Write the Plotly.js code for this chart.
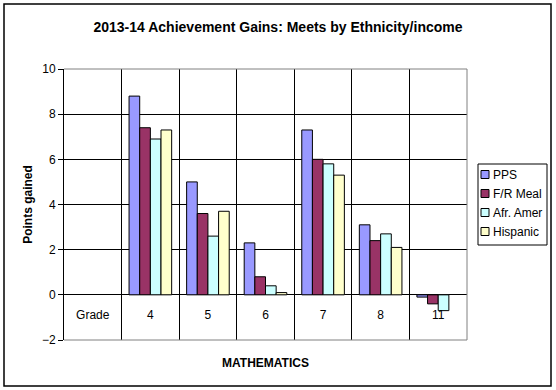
<!DOCTYPE html>
<html>
<head>
<meta charset="utf-8">
<script src="https://cdn.plot.ly/plotly-3.0.1.min.js"></script>
<style>html,body{margin:0;padding:0;background:#fff}</style>
</head>
<body>
<div id="chart" style="width:556px;height:390px"></div>
<script>
const categories = ["Grade", "4", "5", "6", "7", "8", "11"];
const seriesNames = ["PPS", "F/R Meal", "Afr. Amer", "Hispanic"];
const ppsValues = [null, 8.8, 5.0, 2.3, 7.3, 3.1, -0.1];
const frMealValues = [null, 7.4, 3.6, 0.8, 6.0, 2.4, -0.4];
const afrAmerValues = [null, 6.9, 2.6, 0.4, 5.8, 2.7, -0.7];
const hispanicValues = [null, 7.3, 3.7, 0.1, 5.3, 2.1, null];
const seriesColors = ["#9999FF", "#993366", "#CCFFFF", "#FFFFCC"];
const yTickValues = [-2, 0, 2, 4, 6, 8, 10];

const FONT = "Liberation Sans, Arial, sans-serif";
const allValues = [ppsValues, frMealValues, afrAmerValues, hispanicValues];

const traces = allValues.map((vals, i) => ({
  type: "bar",
  name: seriesNames[i],
  x: categories,
  y: vals,
  marker: { color: seriesColors[i], line: { color: "#000000", width: 1 } },
  hoverinfo: "x+y+name"
}));

// plot area in px: left 64, right 467, top 69, bottom 340
const L = 64, R = 467, T = 69, B = 340;
const px2x = p => (p - L) / (R - L);
const px2y = p => (B - p) / (B - T);

const layout = {
  width: 556,
  height: 390,
  margin: { l: L, r: 556 - R, t: T, b: 390 - B, autoexpand: false },
  paper_bgcolor: "#ffffff",
  plot_bgcolor: "#ffffff",
  font: { family: FONT, size: 12, color: "#000000" },
  barmode: "group",
  bargap: 0.26,
  bargroupgap: 0,
  showlegend: true,
  title: {
    text: "<b>2013-14 Achievement Gains: Meets by Ethnicity/income</b>",
    font: { family: FONT, size: 14, color: "#000000" },
    xref: "container", x: 0.5, xanchor: "center",
    yref: "container", y: 1 - 27 / 390, yanchor: "middle"
  },
  xaxis: {
    type: "category",
    categoryorder: "array",
    categoryarray: categories,
    tickson: "boundaries",
    showgrid: true,
    gridcolor: "#000000",
    gridwidth: 1,
    anchor: "free",
    position: 2 / 12,
    showline: false,
    zeroline: false,
    ticks: "",
    ticklabelstandoff: 11,
    tickfont: { family: FONT, size: 12, color: "#000000" },
    title: {
      text: "<b>MATHEMATICS</b>",
      font: { family: FONT, size: 12, color: "#000000" },
      standoff: 37
    },
    fixedrange: true
  },
  yaxis: {
    range: [-2, 10],
    tickvals: yTickValues,
    showgrid: true,
    gridcolor: "#000000",
    gridwidth: 1,
    zeroline: true,
    zerolinecolor: "#000000",
    zerolinewidth: 1,
    showline: true,
    linecolor: "#000000",
    linewidth: 1,
    ticks: "outside",
    ticklen: 5,
    tickcolor: "#000000",
    tickfont: { family: FONT, size: 12, color: "#000000" },
    title: {
      text: "<b>Points gained</b>",
      font: { family: FONT, size: 12, color: "#000000" },
      standoff: 6
    },
    fixedrange: true
  },
  legend: {
    xref: "paper", yref: "paper",
    x: px2x(478), xanchor: "left",
    y: px2y(160), yanchor: "top",
    bgcolor: "rgba(0,0,0,0)",
    borderwidth: 0,
    itemwidth: 30,
    font: { family: FONT, size: 12, color: "#000000" },
    traceorder: "normal",
    tracegroupgap: 0
  },
  shapes: [
    {
      type: "path", xref: "paper", yref: "paper",
      path: "M0,1 L1,1 L1,0 L0,0",
      line: { color: "#808080", width: 1 }, layer: "above"
    },
    {
      type: "rect", xref: "paper", yref: "paper",
      x0: px2x(4), x1: px2x(551), y0: px2y(386), y1: px2y(4),
      line: { color: "#000000", width: 1.5 }, fillcolor: "rgba(0,0,0,0)", layer: "above"
    },
    {
      type: "rect", xref: "paper", yref: "paper",
      x0: px2x(478), x1: px2x(547), y0: px2y(245), y1: px2y(164),
      line: { color: "#000000", width: 1 }, fillcolor: "rgba(0,0,0,0)", layer: "above"
    }
  ]
};

Plotly.newPlot("chart", traces, layout, { displayModeBar: false, staticPlot: true }).then(gd => {
  // compact legend entries: small square swatch right next to the label
  gd.querySelectorAll(".legend .traces").forEach(item => {
    const txt = item.querySelector("text.legendtext");
    if (txt) txt.setAttribute("x", 15);
    item.querySelectorAll(".legendpoints path").forEach(p => {
      p.setAttribute("d", "M4,4H-4V-4H4Z");
      p.setAttribute("transform", "translate(7,0)");
    });
  });
});
</script>
</body>
</html>
